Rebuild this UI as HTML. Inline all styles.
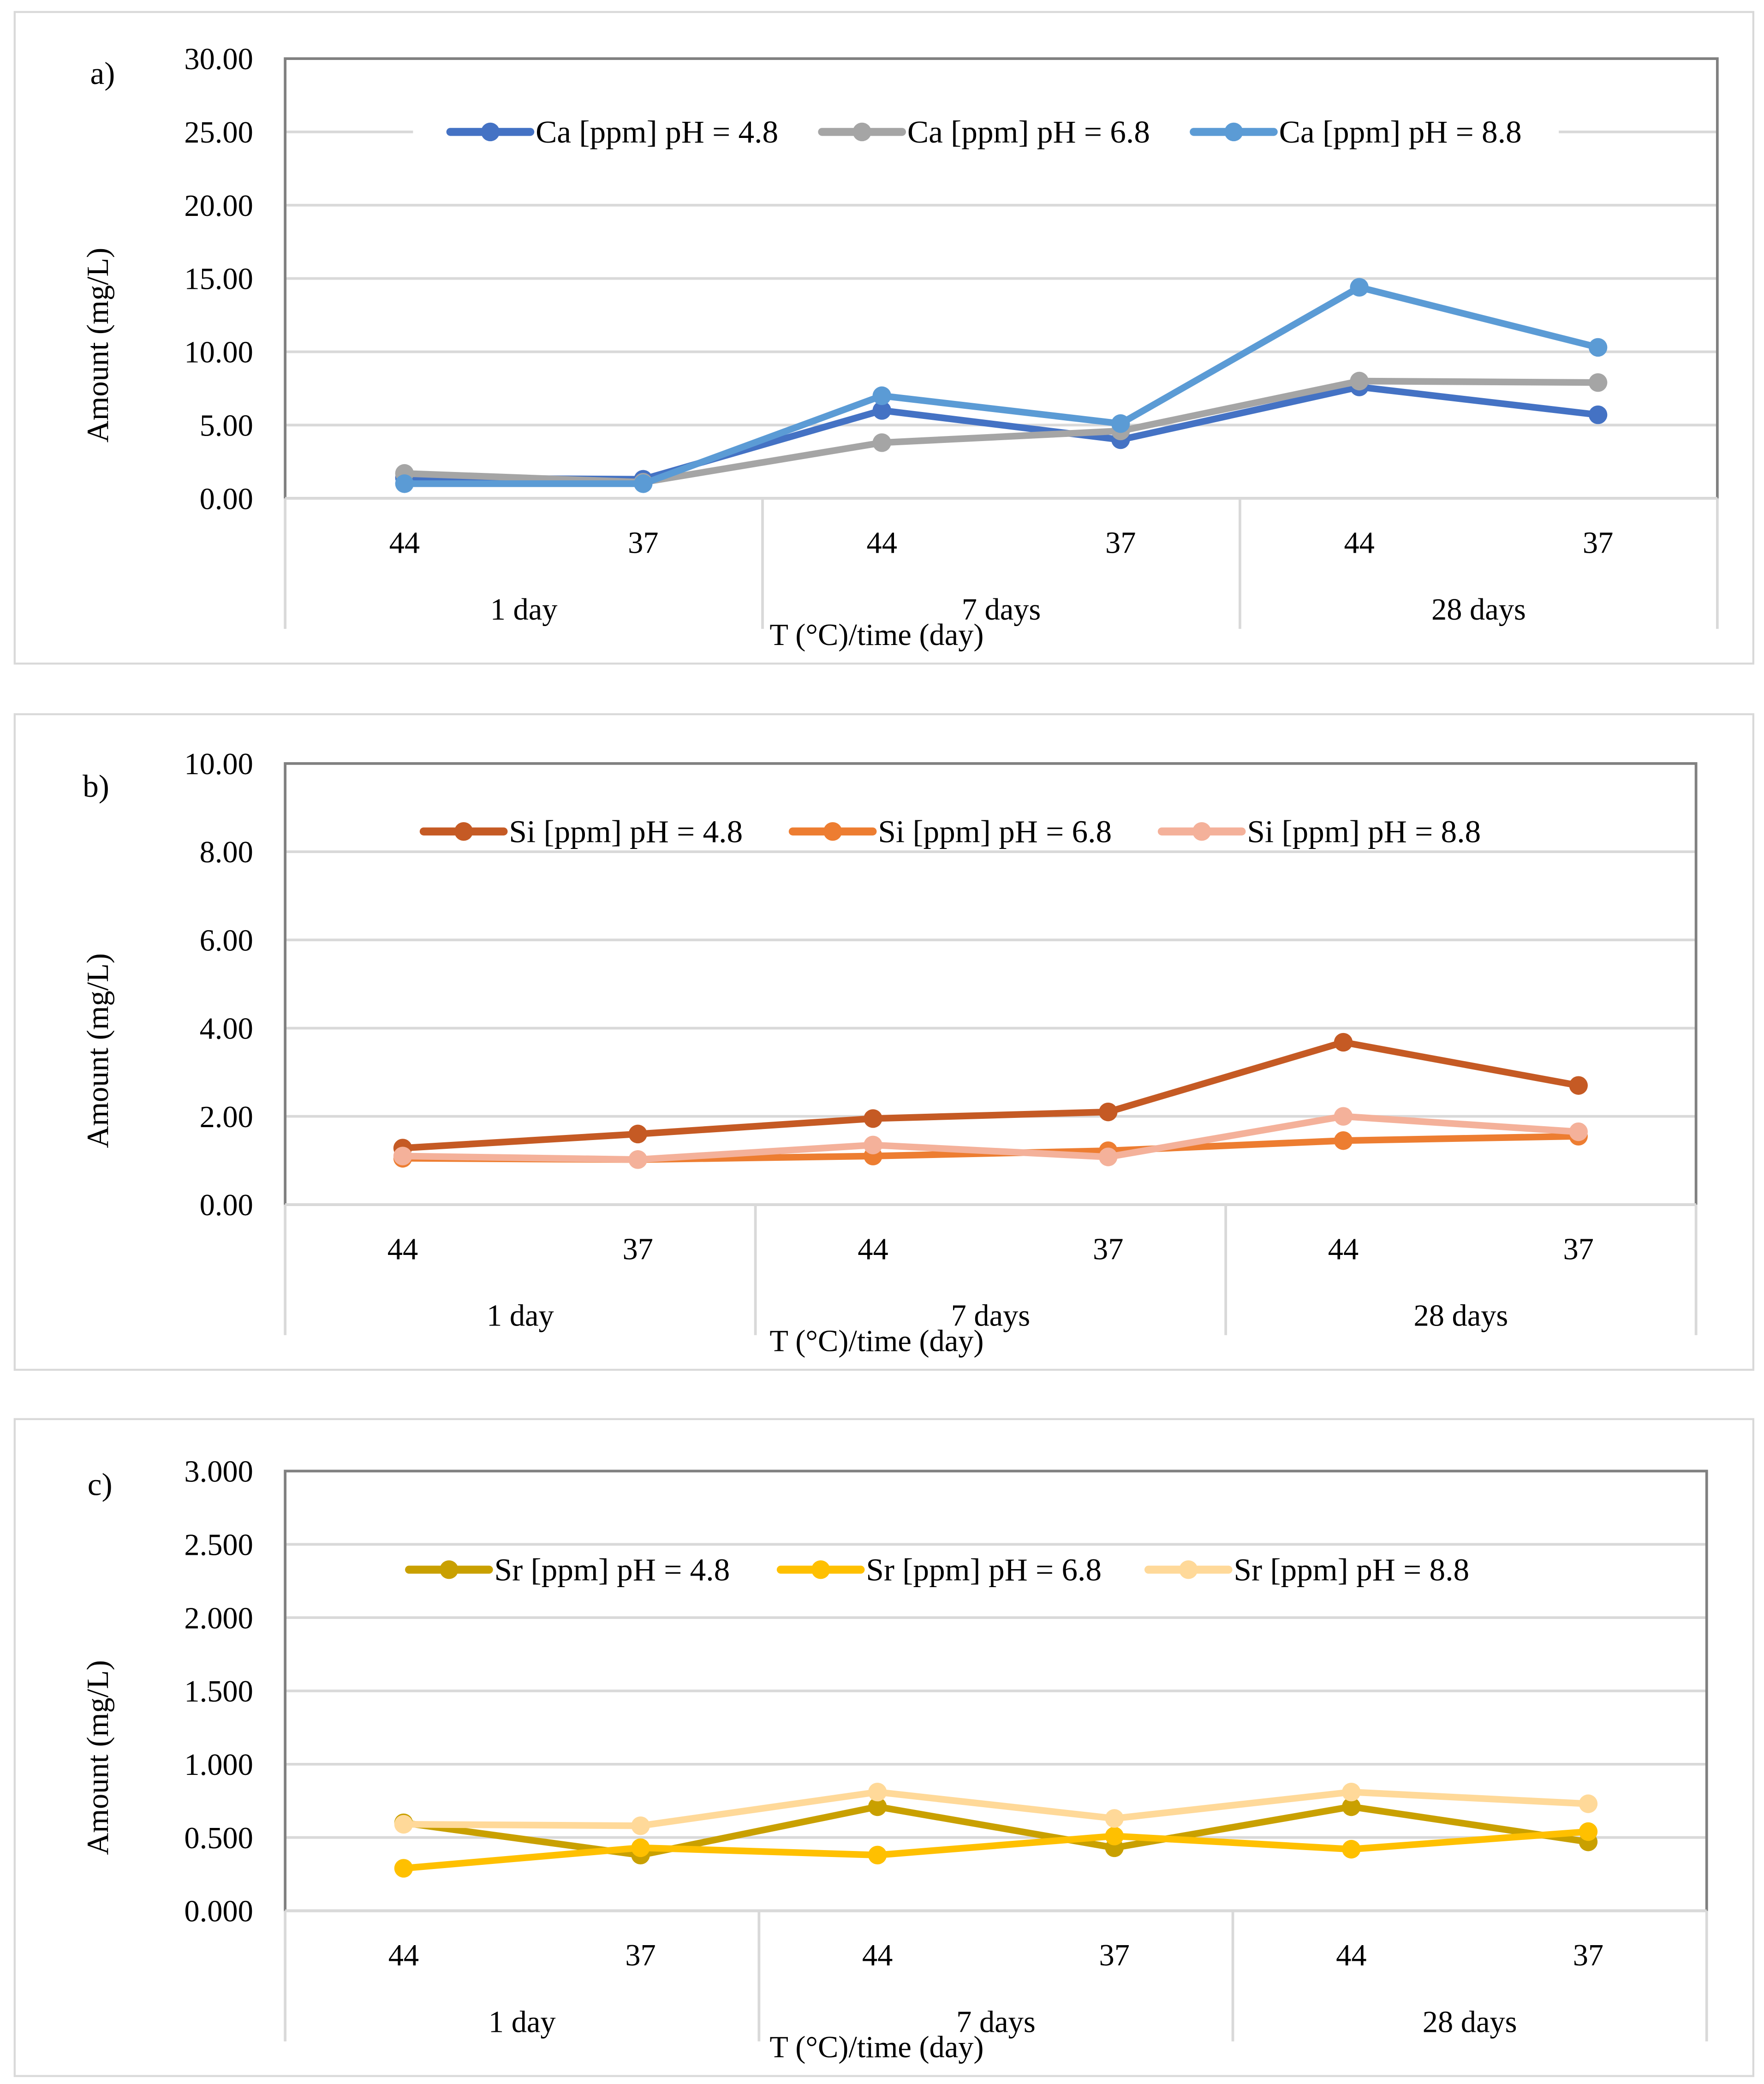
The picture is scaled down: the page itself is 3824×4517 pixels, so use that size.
<!DOCTYPE html>
<html><head><meta charset="utf-8"><style>
html,body{margin:0;padding:0;background:#fff}
svg{display:block}
text{font-family:"Liberation Serif",serif;fill:#000}
</style></head><body>
<svg id="chart" width="3824" height="4517" viewBox="0 0 1324 1564" xmlns="http://www.w3.org/2000/svg"></svg>
<script>
const categories = ["44","37","44","37","44","37"];
const groups = ["1 day","7 days","28 days"];
const caLabels = ["Ca [ppm] pH = 4.8","Ca [ppm] pH = 6.8","Ca [ppm] pH = 8.8"];
const ca48 = [1.4,1.3,6.0,4.0,7.6,5.7];
const ca68 = [1.7,1.1,3.8,4.6,8.0,7.9];
const ca88 = [1.0,1.0,7.0,5.1,14.4,10.3];
const siLabels = ["Si [ppm] pH = 4.8","Si [ppm] pH = 6.8","Si [ppm] pH = 8.8"];
const si48 = [1.28,1.6,1.95,2.1,3.68,2.7];
const si68 = [1.05,1.02,1.1,1.22,1.45,1.55];
const si88 = [1.1,1.02,1.35,1.08,2.0,1.65];
const srLabels = ["Sr [ppm] pH = 4.8","Sr [ppm] pH = 6.8","Sr [ppm] pH = 8.8"];
const sr48 = [0.6,0.38,0.71,0.43,0.71,0.47];
const sr68 = [0.29,0.43,0.38,0.51,0.42,0.54];
const sr88 = [0.59,0.58,0.81,0.63,0.81,0.73];
const caTicks = [0,5,10,15,20,25,30];
const siTicks = [0,2,4,6,8,10];
const srTicks = [0,0.5,1,1.5,2,2.5,3];

const NS="http://www.w3.org/2000/svg";
const svg=document.getElementById('chart');
function el(tag,attrs,parent,txt){const e=document.createElementNS(NS,tag);for(const k in attrs)e.setAttribute(k,attrs[k]);if(txt!==undefined)e.textContent=txt;(parent||svg).appendChild(e);return e;}

const panels=[
 {id:'a',box:[11,9,1305,489],x0:214,x1:1289,yTop:44,yBot:374,max:30,ticks:caTicks,dec:2,series:[ca48,ca68,ca88],labels:caLabels,colors:['#4472C4','#A5A5A5','#5B9BD5'],legY:99,legX:[338,617,896],legBg:[310,1170],lab:[77,55]},
 {id:'b',box:[11,536,1305,492],x0:214,x1:1273,yTop:573,yBot:904,max:10,ticks:siTicks,dec:2,series:[si48,si68,si88],labels:siLabels,colors:['#C55A24','#ED7D31','#F4B19A'],legY:624,legX:[318,595,872],legBg:[285,1145],lab:[72,590]},
 {id:'c',box:[11,1065,1305,493],x0:214,x1:1281,yTop:1104,yBot:1434,max:3,ticks:srTicks,dec:3,series:[sr48,sr68,sr88],labels:srLabels,colors:['#C9A000','#FFC000','#FFD999'],legY:1178,legX:[307,586,862],legBg:[275,1135],lab:[75,1114]}
];

panels.forEach(p=>{
 const g=el('g',{});
 
 
 el('rect',{x:p.box[0],y:p.box[1],width:p.box[2],height:p.box[3],fill:'#fff',stroke:'#d9d9d9','stroke-width':1.5},g);
 const yS=v=>p.yBot-(v/p.max)*(p.yBot-p.yTop);
 const bw=(p.x1-p.x0)/6;
 const xS=i=>p.x0+bw*(i+0.5);
 p.ticks.forEach(t=>{
  const y=yS(t);
  if(t>0&&t<p.max){const l=el('line',{x1:p.x0,x2:p.x1,y1:y,y2:y,stroke:'#d9d9d9','stroke-width':2},g);}
  const tx=el('text',{x:190,y:y+8,'text-anchor':'end','font-size':23},g,t.toFixed(p.dec));
  
  
 });
 el('rect',{x:p.x0,y:p.yTop,width:p.x1-p.x0,height:p.yBot-p.yTop,fill:'none',stroke:'#808080','stroke-width':2},g);
 const base=el('line',{x1:p.x0,x2:p.x1,y1:p.yBot,y2:p.yBot,stroke:'#d9d9d9','stroke-width':2},g);
 
 for(let k=0;k<=3;k++){const x=p.x0+bw*2*k;const l=el('line',{x1:x,x2:x,y1:p.yBot,y2:p.yBot+98,stroke:'#d9d9d9','stroke-width':2},g);}
 categories.forEach((c,i)=>{const t=el('text',{x:xS(i),y:p.yBot+41,'text-anchor':'middle','font-size':23},g,c);});
 groups.forEach((c,i)=>{const t=el('text',{x:p.x0+bw*(2*i+1),y:p.yBot+91,'text-anchor':'middle','font-size':23},g,c);});
 const xt=el('text',{x:658,y:p.yBot+110,'text-anchor':'middle','font-size':23},g,'T (°C)/time (day)');
 
 const cy=(p.yTop+p.yBot)/2+50;
 const yt=el('text',{x:81,y:cy,'text-anchor':'middle','font-size':23,transform:'rotate(-90 81 '+cy+')'},g,'Amount (mg/L)');
 
 const pl=el('text',{x:p.lab[0],y:p.lab[1]+8,'text-anchor':'middle','font-size':24},g,p.id+')');
 
 el('rect',{x:p.legBg[0],y:p.legY-14,width:p.legBg[1]-p.legBg[0],height:28,fill:'#fff'},g);
 p.series.forEach((s,si)=>{
  const pts=s.map((v,i)=>xS(i)+','+yS(v)).join(' ');
  const line=el('polyline',{points:pts,fill:'none',stroke:p.colors[si],'stroke-width':5,'stroke-linejoin':'round'},g);
  
  
  s.forEach((v,i)=>{const c=el('circle',{cx:xS(i),cy:yS(v),r:7,fill:p.colors[si]},g);});
  const lx=p.legX[si];
  const lg=el('g',{},g);
  
  
  el('line',{x1:lx,x2:lx+60,y1:p.legY,y2:p.legY,stroke:p.colors[si],'stroke-width':6,'stroke-linecap':'round'},lg);
  el('circle',{cx:lx+30,cy:p.legY,r:7,fill:p.colors[si]},lg);
  el('text',{x:lx+64,y:p.legY+8,'font-size':24},lg,p.labels[si]);
 });
});
</script>
</body></html>
